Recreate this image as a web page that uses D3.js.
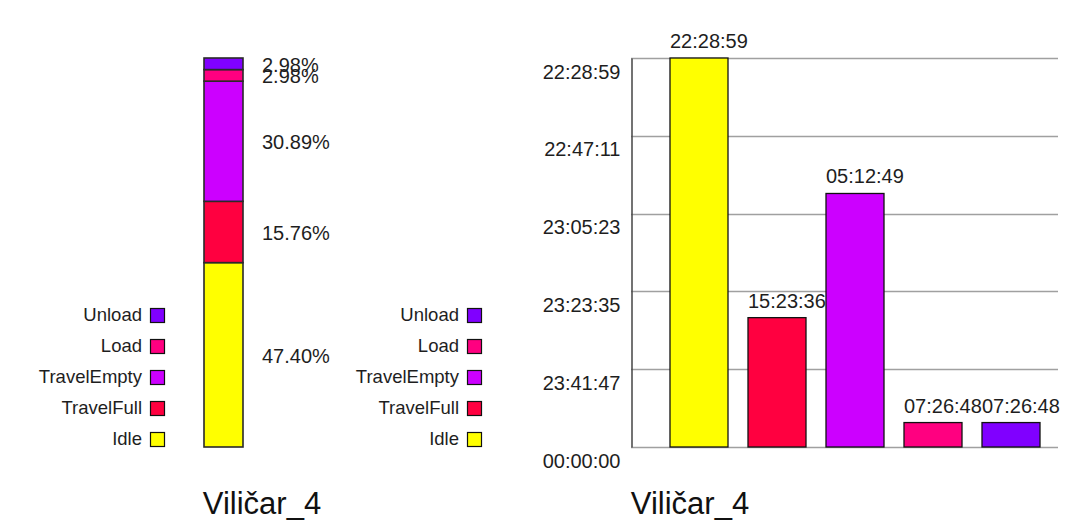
<!DOCTYPE html>
<html>
<head>
<meta charset="utf-8">
<script src="https://cdn.jsdelivr.net/npm/d3@7"></script>
<style>
  html, body { margin: 0; padding: 0; background: #fff; }
  svg { display: block; font-family: "Liberation Sans", Arial, sans-serif; }
</style>
</head>
<body>
<svg id="chart" width="1084" height="532"></svg>
<script>
// Forklift state breakdown, stacked from the bottom up
const states = ["Idle", "TravelFull", "TravelEmpty", "Load", "Unload"];
const colors = ["#ffff00", "#ff0040", "#cc00ff", "#ff0080", "#8000ff"];
// Time spent in each state, seconds
const durations = [5461, 1816, 3559, 343, 343];
// Time labels printed above each bar
const durationLabels = ["22:28:59", "15:23:36", "05:12:49", "07:26:48", "07:26:48"];
// Labels of the time axis, bottom to top
const timeTickLabels = ["00:00:00", "23:41:47", "23:23:35", "23:05:23", "22:47:11", "22:28:59"];
const vehicle = "Viličar_4";

const svg = d3.select("#chart");
const textColor = "#1e1e1e";
const fontSize = 20;

const total = d3.sum(durations);
const shares = durations.map(d => d / total * 100);

// ---------- Left: 100% stacked column ----------
const stackX = d3.scaleBand().domain([vehicle]).range([204, 243]);
const stackY = d3.scaleLinear().domain([0, 100]).range([447, 58]);

const cum = d3.cumsum(shares);
const segs = states.map((s, i) => ({
  state: s, color: colors[i], share: shares[i],
  y0: i === 0 ? 0 : cum[i - 1], y1: cum[i]
}));

const left = svg.append("g");
left.selectAll("rect.seg").data(segs).join("rect")
  .attr("class", "seg")
  .attr("x", stackX(vehicle))
  .attr("width", stackX.bandwidth())
  .attr("y", d => stackY(d.y1))
  .attr("height", d => stackY(d.y0) - stackY(d.y1))
  .attr("fill", d => d.color)
  .attr("stroke", "#2a2a2a")
  .attr("stroke-width", 1.6);

left.selectAll("text.pct").data(segs).join("text")
  .attr("class", "pct")
  .attr("x", 262)
  .attr("y", d => stackY((d.y0 + d.y1) / 2) + 2.5)
  .attr("dominant-baseline", "middle")
  .attr("font-size", fontSize)
  .attr("fill", textColor)
  .text(d => d.share.toFixed(2) + "%");

// ---------- Legends ----------
function legend(xRight) {
  const items = states.map((s, i) => ({ state: s, color: colors[i] })).reverse();
  const rowY = d3.scalePoint().domain(items.map(d => d.state)).range([315, 439]);
  const g = svg.append("g");
  const row = g.selectAll("g").data(items).join("g")
    .attr("transform", d => `translate(0,${rowY(d.state)})`);
  row.append("text")
    .attr("x", xRight)
    .attr("y", 1)
    .attr("text-anchor", "end")
    .attr("dominant-baseline", "middle")
    .attr("font-size", 18.5)
    .attr("fill", textColor)
    .text(d => d.state);
  row.append("rect")
    .attr("x", xRight + 8.5)
    .attr("y", -6.5)
    .attr("width", 14)
    .attr("height", 14)
    .attr("fill", d => d.color)
    .attr("stroke", "#111")
    .attr("stroke-width", 1.2);
}
legend(142);
legend(459);

// ---------- Right: duration columns ----------
const barX = d3.scaleBand().domain(states).range([660, 1050])
  .paddingInner(20 / 78).paddingOuter(10 / 78);
const barY = d3.scaleLinear().domain([0, d3.max(durations)]).range([447, 58]);
const tickVals = timeTickLabels.map((_, i) => barY.domain()[1] * i / (timeTickLabels.length - 1));

const right = svg.append("g");
right.selectAll("line.grid").data(tickVals).join("line")
  .attr("class", "grid")
  .attr("x1", 631).attr("x2", 1058)
  .attr("y1", d => Math.round(barY(d)) + 0.5)
  .attr("y2", d => Math.round(barY(d)) + 0.5)
  .attr("stroke", "#a0a0a0")
  .attr("stroke-width", 1.5);

const axis = d3.axisLeft(barY)
  .tickValues(tickVals)
  .tickSize(0)
  .tickSizeOuter(0)
  .tickPadding(11)
  .tickFormat((d, i) => timeTickLabels[i]);

const axG = right.append("g").attr("transform", "translate(631.5,0)").call(axis);
axG.select(".domain").attr("stroke", "#444").attr("stroke-width", 1.5);
axG.selectAll("text")
  .attr("dy", 20)
  .attr("font-size", fontSize)
  .attr("font-family", "Liberation Sans, Arial, sans-serif")
  .attr("fill", textColor);

const bars = states.map((s, i) => ({ state: s, color: colors[i], value: durations[i], label: durationLabels[i] }));
right.selectAll("rect.bar").data(bars).join("rect")
  .attr("class", "bar")
  .attr("x", d => barX(d.state))
  .attr("width", barX.bandwidth())
  .attr("y", d => barY(d.value))
  .attr("height", d => barY(0) - barY(d.value))
  .attr("fill", d => d.color)
  .attr("stroke", "#111")
  .attr("stroke-width", 1.3);

right.selectAll("text.val").data(bars).join("text")
  .attr("class", "val")
  .attr("x", d => barX(d.state))
  .attr("y", d => barY(d.value) - 10)
  .attr("font-size", fontSize)
  .attr("fill", textColor)
  .text(d => d.label);

// ---------- Titles ----------
svg.selectAll("text.title").data([262, 690]).join("text")
  .attr("class", "title")
  .attr("x", d => d)
  .attr("y", 514)
  .attr("text-anchor", "middle")
  .attr("font-size", 31)
  .attr("fill", "#111")
  .text(vehicle);
</script>
</body>
</html>
